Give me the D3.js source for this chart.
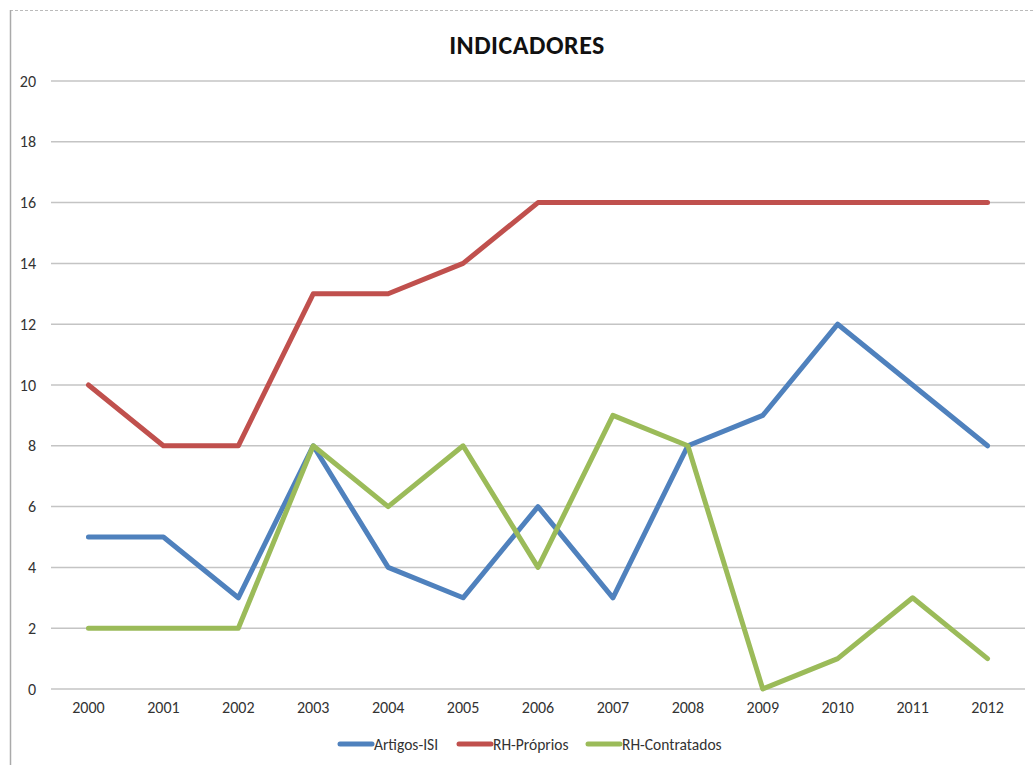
<!DOCTYPE html>
<html><head><meta charset="utf-8">
<script src="https://cdn.jsdelivr.net/npm/d3@7"></script>
<style>body{margin:0;background:#fff;}svg{display:block;font-family:Carlito,"Open Sans","Liberation Sans",sans-serif;}</style>
</head><body><svg id="c" width="1034" height="765"></svg>
<script>
const years = ["2000","2001","2002","2003","2004","2005","2006","2007","2008","2009","2010","2011","2012"];
const artigos = [5,5,3,8,4,3,6,3,8,9,12,10,8];
const rhProprios = [10,8,8,13,13,14,16,16,16,16,16,16,16];
const rhContratados = [2,2,2,8,6,8,4,9,8,0,1,3,1];
const yTicks = [0,2,4,6,8,10,12,14,16,18,20];
const seriesNames = ["Artigos-ISI","RH-Próprios","RH-Contratados"];
const colors = ["#4F81BD","#C0504D","#9BBB59"];

const svg = d3.select("#c");
const x = d3.scaleBand().domain(years).range([51,1025]);
const y = d3.scaleLinear().domain([0,20]).range([689,81]);
const FF = "Carlito,'Open Sans','Liberation Sans',sans-serif";

// frame
svg.append("line").attr("x1",10).attr("x2",1034).attr("y1",10.5).attr("y2",10.5)
  .attr("stroke","#bbb").attr("stroke-width",1).attr("stroke-dasharray","3,2");
svg.append("line").attr("x1",10.5).attr("x2",10.5).attr("y1",10).attr("y2",765)
  .attr("stroke","#aaa").attr("stroke-width",1.5);

// gridlines
svg.append("g").selectAll("line").data(yTicks).join("line")
  .attr("x1",51).attr("x2",1025).attr("y1",d=>y(d)).attr("y2",d=>y(d))
  .attr("stroke","#c4c4c4").attr("stroke-width",1.5);

// y axis labels
const yAxis = d3.axisLeft(y).tickValues(yTicks).tickSize(0).tickPadding(0);
const gy = svg.append("g").attr("transform","translate(36,0)").call(yAxis);
gy.select(".domain").remove();
gy.selectAll("text").attr("font-size",16).attr("fill","#333").style("font-family",FF);

// x axis labels
const xAxis = d3.axisBottom(x).tickSize(0).tickPadding(0);
const gx = svg.append("g").attr("transform","translate(0,702)").call(xAxis);
gx.select(".domain").remove();
gx.selectAll("text").attr("font-size",16).attr("fill","#333").style("font-family",FF);

// lines
const line = d3.line().x((d,i)=>x(years[i])+x.bandwidth()/2).y(d=>y(d));
[artigos,rhProprios,rhContratados].forEach((s,i)=>{
  svg.append("path").attr("d",line(s)).attr("fill","none")
    .attr("stroke",colors[i]).attr("stroke-width",5).attr("stroke-linejoin","round").attr("stroke-linecap","round");
});

// title
svg.append("text").attr("x",527).attr("y",54).attr("text-anchor","middle")
  .attr("font-size",26).attr("font-weight","bold").attr("fill","#111").attr("letter-spacing",0.5).text("INDICADORES");

// legend
const legX = [340,459,588];
seriesNames.forEach((n,i)=>{
  svg.append("line").attr("x1",legX[i]).attr("x2",legX[i]+32).attr("y1",744).attr("y2",744)
    .attr("stroke",colors[i]).attr("stroke-width",5).attr("stroke-linecap","round");
  svg.append("text").attr("x",legX[i]+34).attr("y",750).attr("font-size",15.5).attr("fill","#333").text(n);
});
</script></body></html>
